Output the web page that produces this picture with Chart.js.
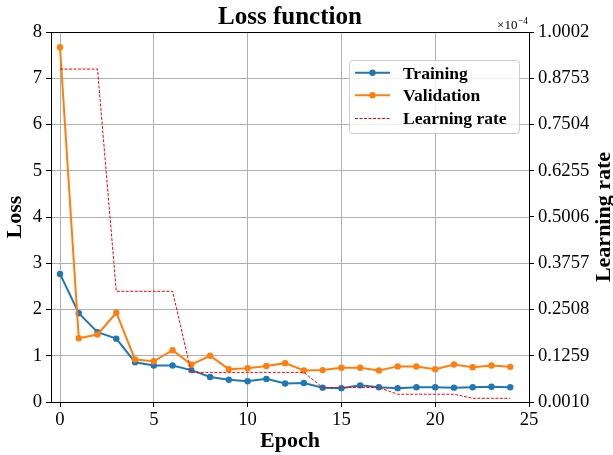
<!DOCTYPE html>
<html>
<head>
<meta charset="utf-8">
<script src="https://cdn.jsdelivr.net/npm/chart.js@4.4.0/dist/chart.umd.min.js"></script>
<style>
  html, body { margin: 0; padding: 0; background: #fff; }
</style>
</head>
<body>
<canvas id="lossChart" width="613" height="455"></canvas>
<script>
const epochs = [0, 1, 2, 3, 4, 5, 6, 7, 8, 9, 10, 11, 12, 13, 14, 15, 16, 17, 18, 19, 20, 21, 22, 23, 24];
const trainLoss = [2.77, 1.92, 1.51, 1.37, 0.86, 0.79, 0.79, 0.69, 0.54, 0.48, 0.45, 0.50, 0.40, 0.41, 0.31,
  0.30, 0.36, 0.32, 0.30, 0.32, 0.32, 0.31, 0.32, 0.33, 0.32];
const valLoss = [7.67, 1.38, 1.46, 1.93, 0.92, 0.88, 1.12, 0.81, 1.00, 0.71, 0.73, 0.78, 0.84, 0.68, 0.69,
  0.74, 0.74, 0.68, 0.77, 0.77, 0.71, 0.81, 0.75, 0.79, 0.76];
// learning rate in units of 1e-4
const learningRate = [0.9, 0.9, 0.9, 0.3, 0.3, 0.3, 0.3, 0.081, 0.081, 0.081, 0.081, 0.081, 0.081, 0.081,
  0.04, 0.04, 0.04, 0.04, 0.022, 0.022, 0.022, 0.022, 0.011, 0.011, 0.011];

const xTicks = [0, 5, 10, 15, 20, 25];
const lossTicks = [0, 1, 2, 3, 4, 5, 6, 7, 8];
const lrTicks = [0.0010, 0.1259, 0.2508, 0.3757, 0.5006, 0.6255, 0.7504, 0.8753, 1.0002];

const serif = '"Liberation Serif", "Times New Roman", serif';
const tickFont = { family: serif, size: 18.7 };
const labelFont = { family: serif, size: 22, weight: 'bold' };

const pts = vals => epochs.map((e, i) => ({ x: e, y: vals[i] }));

// title, top spine, lr label, offset text and legend
const extras = {
  id: 'extras',
  afterDraw(chart) {
    const { ctx, chartArea: a } = chart;
    ctx.save();
    ctx.strokeStyle = '#000';
    ctx.lineWidth = 1;
    ctx.beginPath();
    ctx.moveTo(a.left, Math.round(a.top) + 0.5);
    ctx.lineTo(a.right, Math.round(a.top) + 0.5);
    ctx.stroke();

    ctx.fillStyle = '#000';
    ctx.textBaseline = 'alphabetic';
    ctx.textAlign = 'center';
    ctx.font = 'bold 25px ' + serif;
    ctx.fillText('Loss function', (a.left + a.right) / 2, 24);

    // x10^-4 offset text
    ctx.textAlign = 'right';
    ctx.font = '9.5px ' + serif;
    const expW = ctx.measureText('\u22124').width;
    ctx.fillText('\u22124', a.right - 1, 23.5);
    ctx.font = '13px ' + serif;
    ctx.fillText('\u00d710', a.right - 1 - expW - 0.5, 28.5);

    // right axis label
    ctx.save();
    ctx.translate(604, (a.top + a.bottom) / 2);
    ctx.rotate(-Math.PI / 2);
    ctx.textAlign = 'center';
    ctx.textBaseline = 'middle';
    ctx.font = 'bold 22px ' + serif;
    ctx.fillText('Learning rate', 0, 0);
    ctx.restore();

    // legend
    const bx = 349, by = 60, bw = 170, bh = 73, r = 3;
    ctx.beginPath();
    ctx.roundRect(bx + 0.5, by + 0.5, bw, bh, r);
    ctx.fillStyle = 'rgba(255,255,255,0.8)';
    ctx.fill();
    ctx.strokeStyle = '#cccccc';
    ctx.lineWidth = 1;
    ctx.stroke();

    const rows = [72.7, 95.3, 118.5];
    ctx.font = 'bold 17.5px ' + serif;
    ctx.textAlign = 'left';
    ctx.textBaseline = 'alphabetic';
    chart.data.datasets.forEach((ds, i) => {
      const y = rows[i];
      ctx.save();
      ctx.strokeStyle = ds.borderColor;
      ctx.lineWidth = ds.borderWidth;
      ctx.setLineDash(ds.borderDash || []);
      ctx.beginPath();
      ctx.moveTo(355, y);
      ctx.lineTo(390, y);
      ctx.stroke();
      if (ds.pointRadius > 0) {
        ctx.fillStyle = ds.backgroundColor;
        ctx.beginPath();
        ctx.arc(372.5, y, ds.pointRadius, 0, Math.PI * 2);
        ctx.fill();
      }
      ctx.restore();
      ctx.fillStyle = '#000';
      ctx.fillText(ds.label, 403, y + 5.8);
    });
    ctx.restore();
  }
};

new Chart(document.getElementById('lossChart'), {
  type: 'line',
  data: {
    datasets: [
      {
        label: 'Training',
        data: pts(trainLoss),
        yAxisID: 'y',
        borderColor: '#1f77b4',
        backgroundColor: '#1f77b4',
        borderWidth: 2,
        pointRadius: 3.2,
        pointBorderWidth: 0,
        tension: 0,
        order: 2
      },
      {
        label: 'Validation',
        data: pts(valLoss),
        yAxisID: 'y',
        borderColor: '#ff7f0e',
        backgroundColor: '#ff7f0e',
        borderWidth: 2,
        pointRadius: 3.2,
        pointBorderWidth: 0,
        tension: 0,
        order: 1
      },
      {
        label: 'Learning rate',
        data: pts(learningRate),
        yAxisID: 'lr',
        borderColor: '#ff0000',
        backgroundColor: '#ff0000',
        borderWidth: 1,
        borderDash: [3, 1.5],
        pointRadius: 0,
        tension: 0,
        order: 0
      }
    ]
  },
  options: {
    responsive: false,
    animation: false,
    devicePixelRatio: 1,
    layout: { padding: { top: 32, left: 0, right: 0, bottom: 0 } },
    plugins: {
      legend: { display: false },
      tooltip: { enabled: false }
    },
    scales: {
      x: {
        type: 'linear',
        position: 'bottom',
        min: -0.48,
        max: 25,
        afterBuildTicks: s => { s.ticks = xTicks.map(v => ({ value: v })); },
        afterFit: s => { s.height = 53; },
        grid: { color: '#b0b0b0', lineWidth: 1, tickColor: '#000', tickLength: 5 },
        border: { color: '#000', width: 1 },
        ticks: { color: '#000', font: tickFont, padding: 2, maxRotation: 0 },
        title: { display: true, text: 'Epoch', color: '#000', font: labelFont, padding: { top: 0, bottom: 0 } }
      },
      y: {
        position: 'left',
        min: 0,
        max: 8,
        afterBuildTicks: s => { s.ticks = lossTicks.map(v => ({ value: v })); },
        afterFit: s => { s.width = 51; },
        grid: { color: '#b0b0b0', lineWidth: 1, tickColor: '#000', tickLength: 5 },
        border: { color: '#000', width: 1 },
        ticks: { color: '#000', font: tickFont, padding: 4 },
        title: { display: true, text: 'Loss', color: '#000', font: labelFont, padding: { top: 2, bottom: 0 } }
      },
      lr: {
        position: 'right',
        min: 0.001,
        max: 1.0002,
        afterBuildTicks: s => { s.ticks = lrTicks.map(v => ({ value: v })); },
        afterFit: s => { s.width = 84; },
        grid: { drawOnChartArea: false, tickColor: '#000', tickLength: 5 },
        border: { color: '#000', width: 1 },
        ticks: { color: '#000', font: tickFont, padding: 4, callback: v => v.toFixed(4) }
      }
    }
  },
  plugins: [extras]
});
</script>
</body>
</html>
